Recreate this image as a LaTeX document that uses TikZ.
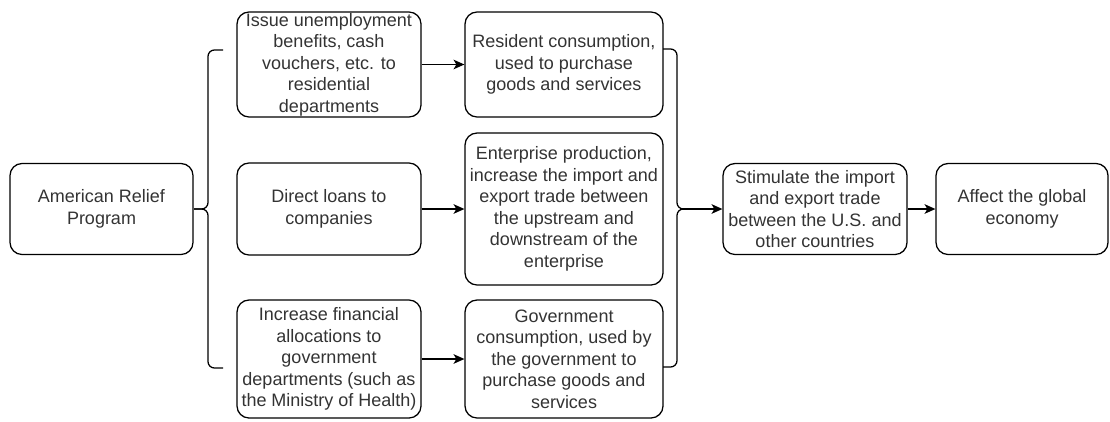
\documentclass[tikz,border=0pt]{standalone}
\usepackage{fontspec}
\setmainfont{Liberation Sans}
\usepackage{tikz}
\usetikzlibrary{arrows.meta}

\definecolor{txt}{HTML}{333333}

\begin{document}
\begin{tikzpicture}[
		box/.style={draw, rounded corners=0.3cm, line width=0.9pt, align=center, text=txt, inner sep=0pt,
			font=\fontsize{12.8pt}{15.3pt}\selectfont},
		link/.style={line width=0.9pt, -{Stealth[length=0.27cm,width=0.24cm,inset=0.07cm]}},
		brace/.style={line width=0.9pt, rounded corners=0.16cm}
	]
			\useasboundingbox (0,0) rectangle (27.75,10.525);
			\node[box, minimum width=4.575cm, minimum height=2.275cm] (relief) at (2.5375,5.3) {American Relief\\Program};
			\node[box, minimum width=4.6cm, minimum height=2.625cm] (benefits) at (8.225,8.9125) {Issue unemployment\\benefits, cash\\vouchers, etc. to\\residential\\departments};
			\node[box, minimum width=4.6cm, minimum height=2.3cm] (loans) at (8.225,5.3) {Direct loans to\\companies};
			\node[box, minimum width=4.6cm, minimum height=2.95cm] (alloc) at (8.225,1.55) {Increase financial\\allocations to\\government\\departments (such as\\the Ministry of Health)};
			\node[box, minimum width=4.95cm, minimum height=2.625cm] (resident) at (14.1,8.9125) {Resident consumption,\\used to purchase\\goods and services};
			\node[box, minimum width=4.95cm, minimum height=3.8cm] (enterprise) at (14.1,5.3) {Enterprise production,\\increase the import and\\export trade between\\the upstream and\\downstream of the\\enterprise};
			\node[box, minimum width=4.95cm, minimum height=2.95cm] (govt) at (14.1,1.55) {Government\\consumption, used by\\the government to\\purchase goods and\\services};
			\node[box, minimum width=4.6cm, minimum height=2.275cm] (trade) at (20.375,5.3) {Stimulate the import\\and export trade\\between the U.S. and\\other countries};
			\node[box, minimum width=4.3cm, minimum height=2.275cm] (global) at (25.55,5.3) {Affect the global\\economy};
			% left brace
			\coordinate (lt) at (4.85,5.3);
			\coordinate (ltop) at (5.575,9.275);
			\coordinate (lbot) at (5.575,1.325);
			\draw[brace] (ltop) -- (5.2,9.275) -- (5.2,5.3) -- (lt);
			\draw[brace] (lbot) -- (5.2,1.325) -- (5.2,5.3) -- (lt);
			% right brace
			\coordinate (rt) at (17.05,5.3);
			\coordinate (rtop) at (16.575,9.3);
			\coordinate (rbot) at (16.575,1.35);
			\draw[brace] (rtop) -- (16.925,9.3) -- (16.925,5.3) -- (rt);
			\draw[brace] (rbot) -- (16.925,1.35) -- (16.925,5.3) -- (rt);
			\draw[link] (benefits) -- (resident);
			\draw[link] (loans) -- (enterprise);
			\draw[link] (alloc) -- (govt);
			\draw[link] (rt) -- (trade);
			\draw[link] (trade) -- (global);
		\end{tikzpicture}
\end{document}
